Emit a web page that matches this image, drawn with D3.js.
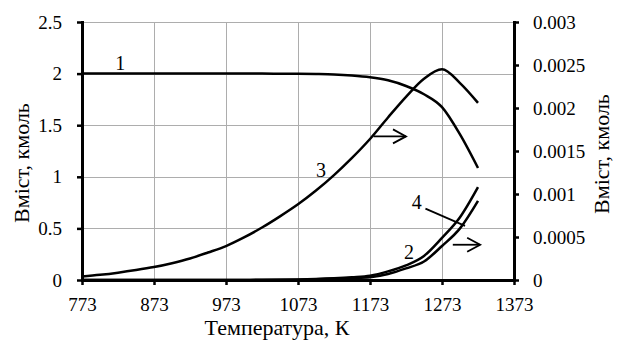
<!DOCTYPE html>
<html>
<head>
<meta charset="utf-8">
<script src="https://cdn.jsdelivr.net/npm/d3@7"></script>
<style>
  html, body { margin: 0; padding: 0; background: #fff; }
  svg text { font-family: "Liberation Serif", Tinos, "Times New Roman", Times, "DejaVu Serif", serif; fill: #000; }
</style>
</head>
<body>
<svg id="chart" width="617" height="340"></svg>
<script>
// Temperature grid, K
const temperature = [773, 798, 823, 848, 873, 898, 923, 948, 973, 998, 1023, 1048,
  1073, 1098, 1123, 1148, 1173, 1198, 1223, 1248, 1273, 1298, 1323];

// Curve 1 — left axis, kmol
const series1 = [2.0, 2.0, 2.0, 2.0, 2.0, 2.0, 2.0, 2.0, 2.0, 2.0, 2.0, 1.999,
  1.998, 1.996, 1.992, 1.982, 1.965, 1.935, 1.88, 1.80, 1.675, 1.41, 1.085];

// Curves 2, 3, 4 — right axis, kmol
const series2 = [0, 0, 0, 0, 0, 0, 0, 0, 0, 0.000001, 0.000002, 0.000004,
  0.000007, 0.000012, 0.00002, 0.000032, 0.00005, 0.0001, 0.00017, 0.00028, 0.00049, 0.00073, 0.00108];
const series3 = [0.00004, 0.00006, 0.000085, 0.000115, 0.00015, 0.000195, 0.00025, 0.00032,
  0.000395, 0.000495, 0.00061, 0.00074, 0.00088, 0.00104, 0.00122, 0.00142, 0.00164,
  0.00189, 0.00213, 0.00234, 0.00245, 0.00229, 0.00206];
const series4 = [0, 0, 0, 0, 0, 0, 0, 0, 0, 0.000001, 0.000001, 0.000002,
  0.000004, 0.000008, 0.000014, 0.000022, 0.000032, 0.00007, 0.000135, 0.000215, 0.000395, 0.0006, 0.00092];

// Tick values
const xTicks = [773, 873, 973, 1073, 1173, 1273, 1373];
const yLeftTicks = [0, 0.5, 1, 1.5, 2, 2.5];
const yRightTicks = [0, 0.0005, 0.001, 0.0015, 0.002, 0.0025, 0.003];

const xTitle = "Температура, К";
const yTitle = "Вміст, кмоль";

const svg = d3.select("#chart");
const plot = { left: 82, right: 514, top: 22, bottom: 280 };
const FS = 19;       // tick labels
const FS_NOTE = 20;  // curve numbers
const FS_TITLE = 22; // axis titles
const FONT = '"Liberation Serif", Tinos, "Times New Roman", Times, "DejaVu Serif", serif';

const x = d3.scaleLinear().domain([773, 1373]).range([plot.left, plot.right]);
const yL = d3.scaleLinear().domain([0, 2.5]).range([plot.bottom, plot.top]);
const yR = d3.scaleLinear().domain([0, 0.003]).range([plot.bottom, plot.top]);

// grid
const grid = svg.append("g").attr("stroke", "#adadad").attr("stroke-width", 1);
grid.selectAll("line.h").data(yLeftTicks.filter(d => d > 0)).join("line")
  .attr("x1", plot.left).attr("x2", plot.right)
  .attr("y1", d => Math.round(yL(d)) + 0.5).attr("y2", d => Math.round(yL(d)) + 0.5);
grid.selectAll("line.v").data(xTicks.slice(1, -1)).join("line")
  .attr("y1", plot.top).attr("y2", plot.bottom)
  .attr("x1", d => Math.round(x(d)) + 0.5).attr("x2", d => Math.round(x(d)) + 0.5);

// series
const lineL = d3.line().x((d, i) => x(temperature[i])).y(d => yL(d)).curve(d3.curveMonotoneX);
const lineR = d3.line().x((d, i) => x(temperature[i])).y(d => yR(d)).curve(d3.curveMonotoneX);
const curves = svg.append("g").attr("fill", "none").attr("stroke", "#000").attr("stroke-width", 2.5);
curves.append("path").attr("d", lineL(series1));
curves.append("path").attr("d", lineR(series3));
curves.append("path").attr("d", lineR(series2));
curves.append("path").attr("d", lineR(series4));

// axes
function styleAxis(g) {
  g.attr("font-family", FONT).attr("font-size", FS);
  g.select(".domain").attr("stroke-width", 3).attr("stroke-linecap", "square");
  g.selectAll(".tick line").attr("stroke-width", 2.5);
}
svg.append("g").attr("transform", `translate(0,${plot.bottom})`)
  .call(d3.axisBottom(x).tickValues(xTicks).tickFormat(d => d).tickSize(5).tickSizeOuter(0).tickPadding(12.5))
  .call(styleAxis);
svg.append("g").attr("transform", `translate(${plot.left},0)`)
  .call(d3.axisLeft(yL).tickValues(yLeftTicks).tickFormat(d => String(d)).tickSize(5).tickSizeOuter(0).tickPadding(15))
  .call(styleAxis);
svg.append("g").attr("transform", `translate(${plot.right},0)`)
  .call(d3.axisRight(yR).tickValues(yRightTicks).tickFormat(d => String(d)).tickSize(5).tickSizeOuter(0).tickPadding(14))
  .call(styleAxis);

// axis titles
const titles = svg.append("g").attr("font-family", FONT).attr("font-size", FS_TITLE).attr("text-anchor", "middle");
titles.append("text").attr("x", 277).attr("y", 335).text(xTitle);
titles.append("text").attr("transform", "translate(29,163) rotate(-90)").text(yTitle);
titles.append("text").attr("transform", "translate(609,154) rotate(-90)").text(yTitle);

// curve numbers
const notes = svg.append("g").attr("font-family", FONT).attr("font-size", FS_NOTE).attr("text-anchor", "middle");
notes.append("text").attr("x", x(826)).attr("y", yL(2.0) - 4).text("1");
notes.append("text").attr("x", x(1105)).attr("y", yR(0.00128) + 7).text("3");
notes.append("text").attr("x", x(1238)).attr("y", yR(0.00091) + 7).text("4");
notes.append("text").attr("x", x(1227)).attr("y", yR(0.00033) + 7).text("2");

// leader from "4" and arrows towards the right axis
const ann = svg.append("g").attr("stroke", "#000").attr("stroke-width", 1.8).attr("fill", "none");
ann.append("line").attr("x1", x(1250)).attr("y1", yR(0.00083))
  .attr("x2", x(1305)).attr("y2", yR(0.00063));
function arrow(t0, t1, v) {
  const x0 = x(t0), x1 = x(t1), y0 = yR(v);
  ann.append("line").attr("x1", x0).attr("y1", y0).attr("x2", x1).attr("y2", y0);
  ann.append("path").attr("d", `M${x1 - 13},${y0 - 7}L${x1},${y0}L${x1 - 13},${y0 + 7}`);
}
arrow(1178, 1223, 0.00167);
arrow(1288, 1326, 0.00041);
</script>
</body>
</html>
